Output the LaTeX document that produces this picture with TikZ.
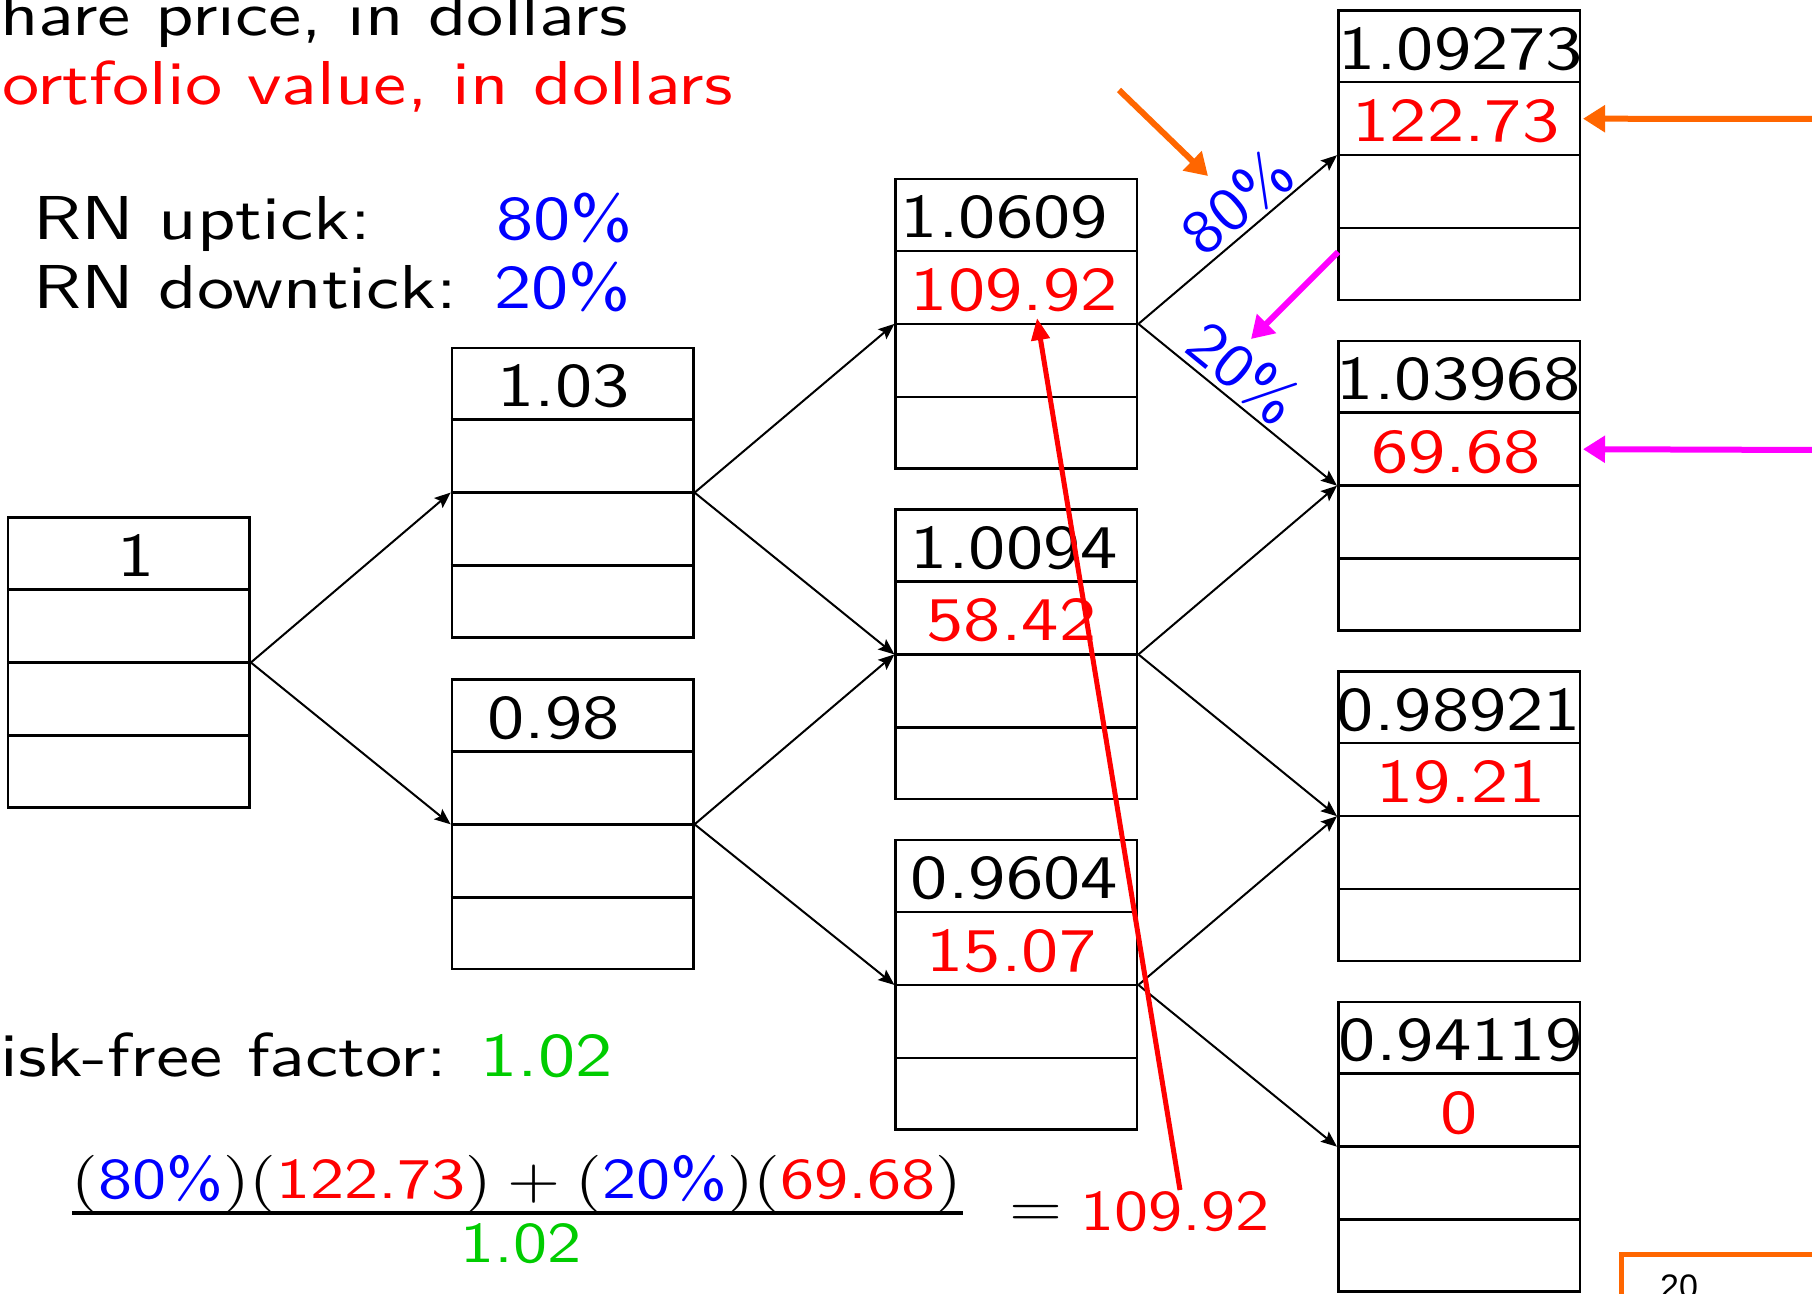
\documentclass[tikz,border=0pt]{standalone}
\usepackage{fontspec}
\newfontfamily\pgfont{Liberation Sans}
\usetikzlibrary{calc,arrows.meta}
\definecolor{myorange}{RGB}{255,102,0}
\definecolor{mygreen}{RGB}{0,204,0}
\definecolor{mymag}{RGB}{255,0,255}
% 10pt Latin Modern Sans, scaled up (wider than the 17pt design)
\newcommand\sx[1]{\scalebox{7.45}[6.2]{#1}}
\newcommand\px[1]{\scalebox{6.7}[6.2]{#1}}
\newcommand\fx[1]{\scalebox{6.82}[5.75]{#1}}
\newcommand\rowlines[1]{%
  \draw[rowline] ($(#1.north west)!.25!(#1.south west)$) -- ($(#1.north east)!.25!(#1.south east)$);
  \draw[rowline] (#1.west) -- (#1.east);
  \draw[rowline] ($(#1.north west)!.75!(#1.south west)$) -- ($(#1.north east)!.75!(#1.south east)$);}
\begin{document}
\begin{tikzpicture}[x=1pt,y=-1pt,
  tbox/.style={draw, line width=2.5pt, minimum width=241.5pt, minimum height=289.6pt, inner sep=0pt},
  rowline/.style={line width=2.5pt},
  txt/.style={font=\fontsize{10}{12}\selectfont\sffamily, inner sep=0pt},
  cell/.style={txt, anchor=base},
  val/.style={cell, red},
  pct/.style={txt, blue, inner sep=3pt},
  arr/.style={-{Stealth[length=16pt,width=13pt,inset=3pt]}, line width=2pt},
  oarr/.style={-{Triangle[length=22pt,width=26pt]}, line width=6pt, myorange},
  marr/.style={-{Triangle[length=22pt,width=26pt]}, line width=6pt, mymag},
  rarr/.style={-{Triangle[length=22pt,width=18pt]}, line width=5pt, red}]
\useasboundingbox (0,0) rectangle (1812,1293);
\clip (0,0) rectangle (1812,1293);
\fill[white] (0,0) rectangle (1812,1293);

% headings
\node[txt, anchor=base west] (t1) at (0,35) {\sx{hare price, in dollars}};
\node[txt, anchor=base west, red] (t2) at (2,104) {\sx{ortfolio value, in dollars}};
\node[txt, anchor=base west] (t3) at (33,239) {\sx{RN uptick:}};
\node[txt, anchor=base west, blue] (t4) at (496,239) {\sx{80\%}};
\node[txt, anchor=base west] (t5) at (33,308) {\sx{RN downtick:}};
\node[txt, anchor=base west, blue] (t6) at (494,308) {\sx{20\%}};
\node[txt, anchor=base west] (t7) at (0,1076) {\sx{isk-free factor: \textcolor{mygreen}{1.02}}};

% boxes
\node[tbox] (A) at (128.9,662.5) {};
\node[tbox] (B) at (572.6,492.6) {};
\node[tbox] (C) at (572.6,824.3) {};
\node[tbox] (D) at (1016.4,323.9) {};
\node[tbox] (E) at (1016.4,654.4) {};
\node[tbox] (F) at (1016.4,984.9) {};
\node[tbox] (G) at (1459,155.2) {};
\node[tbox] (H) at (1459,485.7) {};
\node[tbox] (I) at (1459,816.2) {};
\node[tbox] (J) at (1459,1146.7) {};
\foreach \b in {A,B,C,D,E,F,G,H,I,J}{\rowlines{\b}}

% prices
\node[cell] (Ap) at ($(A.north)+(7,60)$) {\sx{1}};
\node[cell] (Bp) at ($(B.north)+(-9,60)$) {\sx{1.03}};
\node[cell] (Cp) at ($(C.north)+(-19,60)$) {\sx{0.98}};
\node[cell] (Dp) at ($(D.north)+(-12,60)$) {\sx{1.0609}};
\node[cell] (Ep) at ($(E.north)+(-2,60)$) {\sx{1.0094}};
\node[cell] (Fp) at ($(F.north)+(-2,60)$) {\sx{0.9604}};
\node[cell] (Gp) at ($(G.north)+(2,60)$) {\sx{1.09273}};
\node[cell] (Hp) at ($(H.north)+(0,60)$) {\sx{1.03968}};
\node[cell] (Ip) at ($(I.north)+(0,60)$) {\sx{0.98921}};
\node[cell] (Jp) at ($(J.north)+(2,60)$) {\sx{0.94119}};
% values
\node[val] (Dv) at ($(D.north)+(-2,132.4)$) {\sx{109.92}};
\node[val] (Ev) at ($(E.north)+(-5,132.4)$) {\sx{58.42}};
\node[val] (Fv) at ($(F.north)+(-5,132.4)$) {\sx{15.07}};
\node[val] (Gv) at ($(G.north)+(-3,132.4)$) {\sx{122.73}};
\node[val] (Hv) at ($(H.north)+(-3,132.4)$) {\sx{69.68}};
\node[val] (Iv) at ($(I.north)+(2,132.4)$) {\sx{19.21}};
\node[val] (Jv) at ($(J.north)+(0,132.4)$) {\sx{0}};

% tree connectors
\draw[arr] (A.east) -- (B.west);
\draw[arr] (A.east) -- (C.west);
\draw[arr] (B.east) -- (D.west);
\draw[arr] (B.east) -- (E.west);
\draw[arr] (C.east) -- (E.west);
\draw[arr] (C.east) -- (F.west);
\draw[arr] (D.east) -- node[pct, sloped, above, pos=0.59] (l80) {\px{80\%}} (G.west);
\draw[arr] (D.east) -- node[pct, sloped, above, pos=0.44] (l20) {\px{20\%}} (H.west);
\draw[arr] (E.east) -- (H.west);
\draw[arr] (E.east) -- (I.west);
\draw[arr] (F.east) -- (I.west);
\draw[arr] (F.east) -- (J.west);

% formula
\node[txt, anchor=base] (num) at (517,1198) {\fx{$(\mbox{\textcolor{blue}{80\%}})(\mbox{\textcolor{red}{122.73}})+(\mbox{\textcolor{blue}{20\%}})(\mbox{\textcolor{red}{69.68}})$}};
\coordinate (bl) at (72,1213);
\coordinate (br) at (963,1213);
\draw[line width=3.2pt] (bl) -- (br);
\node[txt, anchor=base, mygreen] (den) at (521,1262) {\fx{1.02}};
\node[txt, anchor=base] (eq) at (1036,1226) {\fx{$=$}};
\node[txt, anchor=base west, red] (res) at (1080,1230) {\fx{109.92}};

% highlight arrows
\coordinate (o1s) at (1119,90);
\coordinate (o1e) at (1208,176);
\draw[oarr] (o1s) -- (o1e);
\coordinate (o2s) at (1815,119);
\coordinate (o2e) at ($(G.north east)!.375!(G.south east)+(2,0)$);
\draw[oarr] (o2s) -- (o2e);
\coordinate (m1s) at (1338,252);
\coordinate (m1e) at (1251,339);
\draw[marr] (m1s) -- (m1e);
\coordinate (m2s) at (1815,450);
\coordinate (m2e) at ($(H.north east)!.375!(H.south east)+(2,0)$);
\draw[marr] (m2s) -- (m2e);
\coordinate (rs) at (1180,1190);
\coordinate (rt) at (1037,318);
\draw[rarr] (rs) -- (rt);

% page number
\draw[myorange, line width=5pt] (1621,1254) rectangle (1850,1340);
\node[font=\fontsize{34}{40}\selectfont\pgfont, anchor=base west, inner sep=0pt] (pg) at (1660,1298) {20};
\end{tikzpicture}
\end{document}
